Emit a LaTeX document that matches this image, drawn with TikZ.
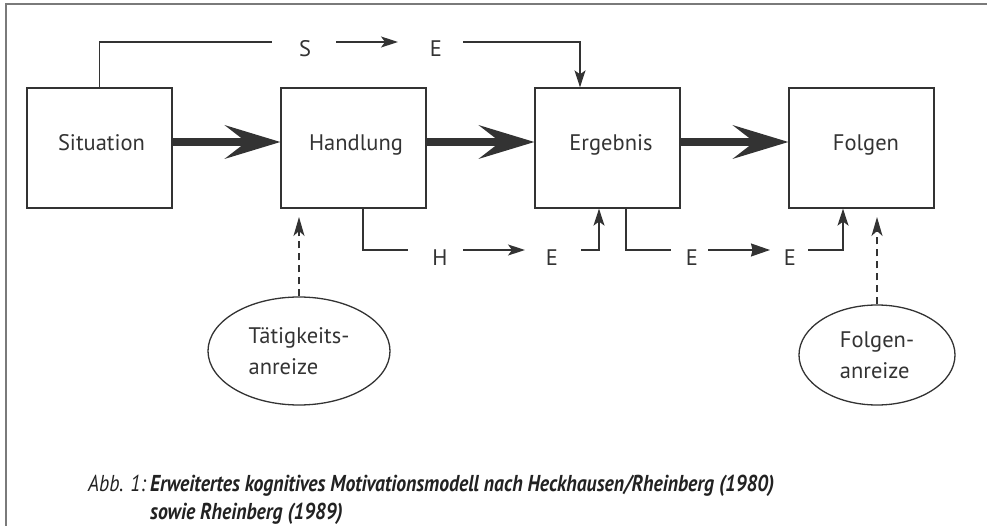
\documentclass[tikz,border=0pt]{standalone}
\usepackage{fontspec}
\setmainfont{PT Sans}
\usetikzlibrary{arrows.meta,shapes.geometric,calc}
\definecolor{ink}{HTML}{333333}
\definecolor{capink}{HTML}{222222}
\definecolor{framec}{HTML}{7A7A7A}
\newlength\capw
\newcommand{\capsize}{\fontsize{23}{27}\selectfont}
\begin{document}
\settowidth\capw{\capsize\bfseries\itshape Erweitertes kognitives Motivationsmodell nach Heckhausen/Rheinberg (1980)}
\pgfmathsetmacro\capsx{624/\capw}
\begin{tikzpicture}[x=1pt,y=-1pt,
  box/.style={draw=ink, line width=1.3pt, minimum width=145pt, minimum height=120pt, inner sep=0pt},
  lbl/.style={font=\fontsize{22.5}{26}\selectfont, text=ink, inner sep=0pt},
  conn/.style={draw=ink, line width=1.3pt},
  tip/.style={-{Stealth[length=17pt,width=11pt,inset=4pt]}},
  tipbig/.style={-{Stealth[length=19pt,width=13pt,inset=1.5pt]}},
  bigarrow/.style={draw=ink, line width=7.5pt, -{Stealth[length=56pt,width=34pt,inset=22pt,line width=0pt]}},
  ell/.style={draw=ink, line width=1.3pt, ellipse, inner sep=0pt, align=left,
    font=\fontsize{22.5}{31}\selectfont, text=ink},
  dasharr/.style={conn, dash pattern=on 7pt off 5pt, -{Stealth[length=19pt,width=11pt,inset=5pt]}},
  framestyle/.style={draw=framec, line width=1.5pt},
  capstyle/.style={inner sep=0pt, text=capink, font=\capsize, anchor=base west}
]
\useasboundingbox (0,0) rectangle (987,526);
\draw[framestyle] (987,4) -- (6,4) -- (6,526);

% boxes
\node[box] (sit) at (99.5,148) {};
\node[box] (hand) at (353.5,148) {};
\node[box] (erg) at (607.5,148) {};
\node[box] (fol) at (861.5,148) {};
\node[lbl, anchor=base] (sitT) at (101.5,151) {Situation};
\node[lbl, anchor=base] (handT) at (356,151) {Handlung};
\node[lbl, anchor=base] (ergT) at (611,151) {Ergebnis};
\node[lbl, anchor=base] (folT) at (866,151) {Folgen};

% thick arrows
\draw[bigarrow] ([yshift=6pt]sit.east) -- ([yshift=6pt]hand.west);
\draw[bigarrow] ([yshift=6pt]hand.east) -- ([yshift=6pt]erg.west);
\draw[bigarrow] ([yshift=6pt]erg.east) -- ([yshift=6pt]fol.west);

% top S -> E
\node[lbl, anchor=base] (tS) at (305,57) {S};
\node[lbl, anchor=base] (tE) at (436,57) {E};
\coordinate (c1) at (272,42);
\coordinate (c2) at (336,42);
\coordinate (c3) at (398,42);
\coordinate (c4) at (463,42);
\draw[conn] (sit.north) |- (c1);
\draw[conn, tip] (c2) -- (c3);
\draw[conn, tip] (c4) -| ([xshift=-27.5pt]erg.north);

% bottom H -> E, E -> E
\node[lbl, anchor=base] (bH) at (440,266) {H};
\node[lbl, anchor=base] (bE1) at (552,266) {E};
\node[lbl, anchor=base] (bE2) at (692,266) {E};
\node[lbl, anchor=base] (bE3) at (790,266) {E};
\coordinate (b1) at (408,250);
\coordinate (b2) at (463,250);
\coordinate (b3) at (525,250);
\coordinate (b4) at (581,250);
\coordinate (b5) at (671,250);
\coordinate (b6) at (708,250);
\coordinate (b7) at (770,250);
\coordinate (b8) at (808,250);
\draw[conn] ([xshift=9.5pt]hand.south) |- (b1);
\draw[conn, tip] (b2) -- (b3);
\draw[conn, tip] (b4) -| ([xshift=-8.5pt]erg.south);
\draw[conn] ([xshift=18.5pt]erg.south) |- (b5);
\draw[conn, tipbig] (b6) -- (b7);
\draw[conn, tip] (b8) -| ([xshift=-18.5pt]fol.south);

% ellipses
\node[ell, minimum width=182pt, minimum height=108pt] (tae) at (299,351) {Tätigkeits-\\anreize};
\node[ell, minimum width=156pt, minimum height=100pt] (fae) at (877,355) {Folgen-\\anreize};
\coordinate (d1) at (299,217);
\coordinate (d2) at (877,217);
\draw[dasharr] (tae.north) -- (d1);
\draw[dasharr] (fae.north) -- (d2);

% caption
\node[capstyle] (abb) at (88,491) {\scalebox{\capsx}[1]{\itshape Abb. 1:}};
\node[capstyle] (cap1) at (150,491) {\scalebox{\capsx}[1]{\bfseries\itshape Erweitertes kognitives Motivationsmodell nach Heckhausen/Rheinberg (1980)}};
\node[capstyle] (cap2) at (150,519) {\scalebox{\capsx}[1]{\bfseries\itshape sowie Rheinberg (1989)}};
\end{tikzpicture}
\end{document}
